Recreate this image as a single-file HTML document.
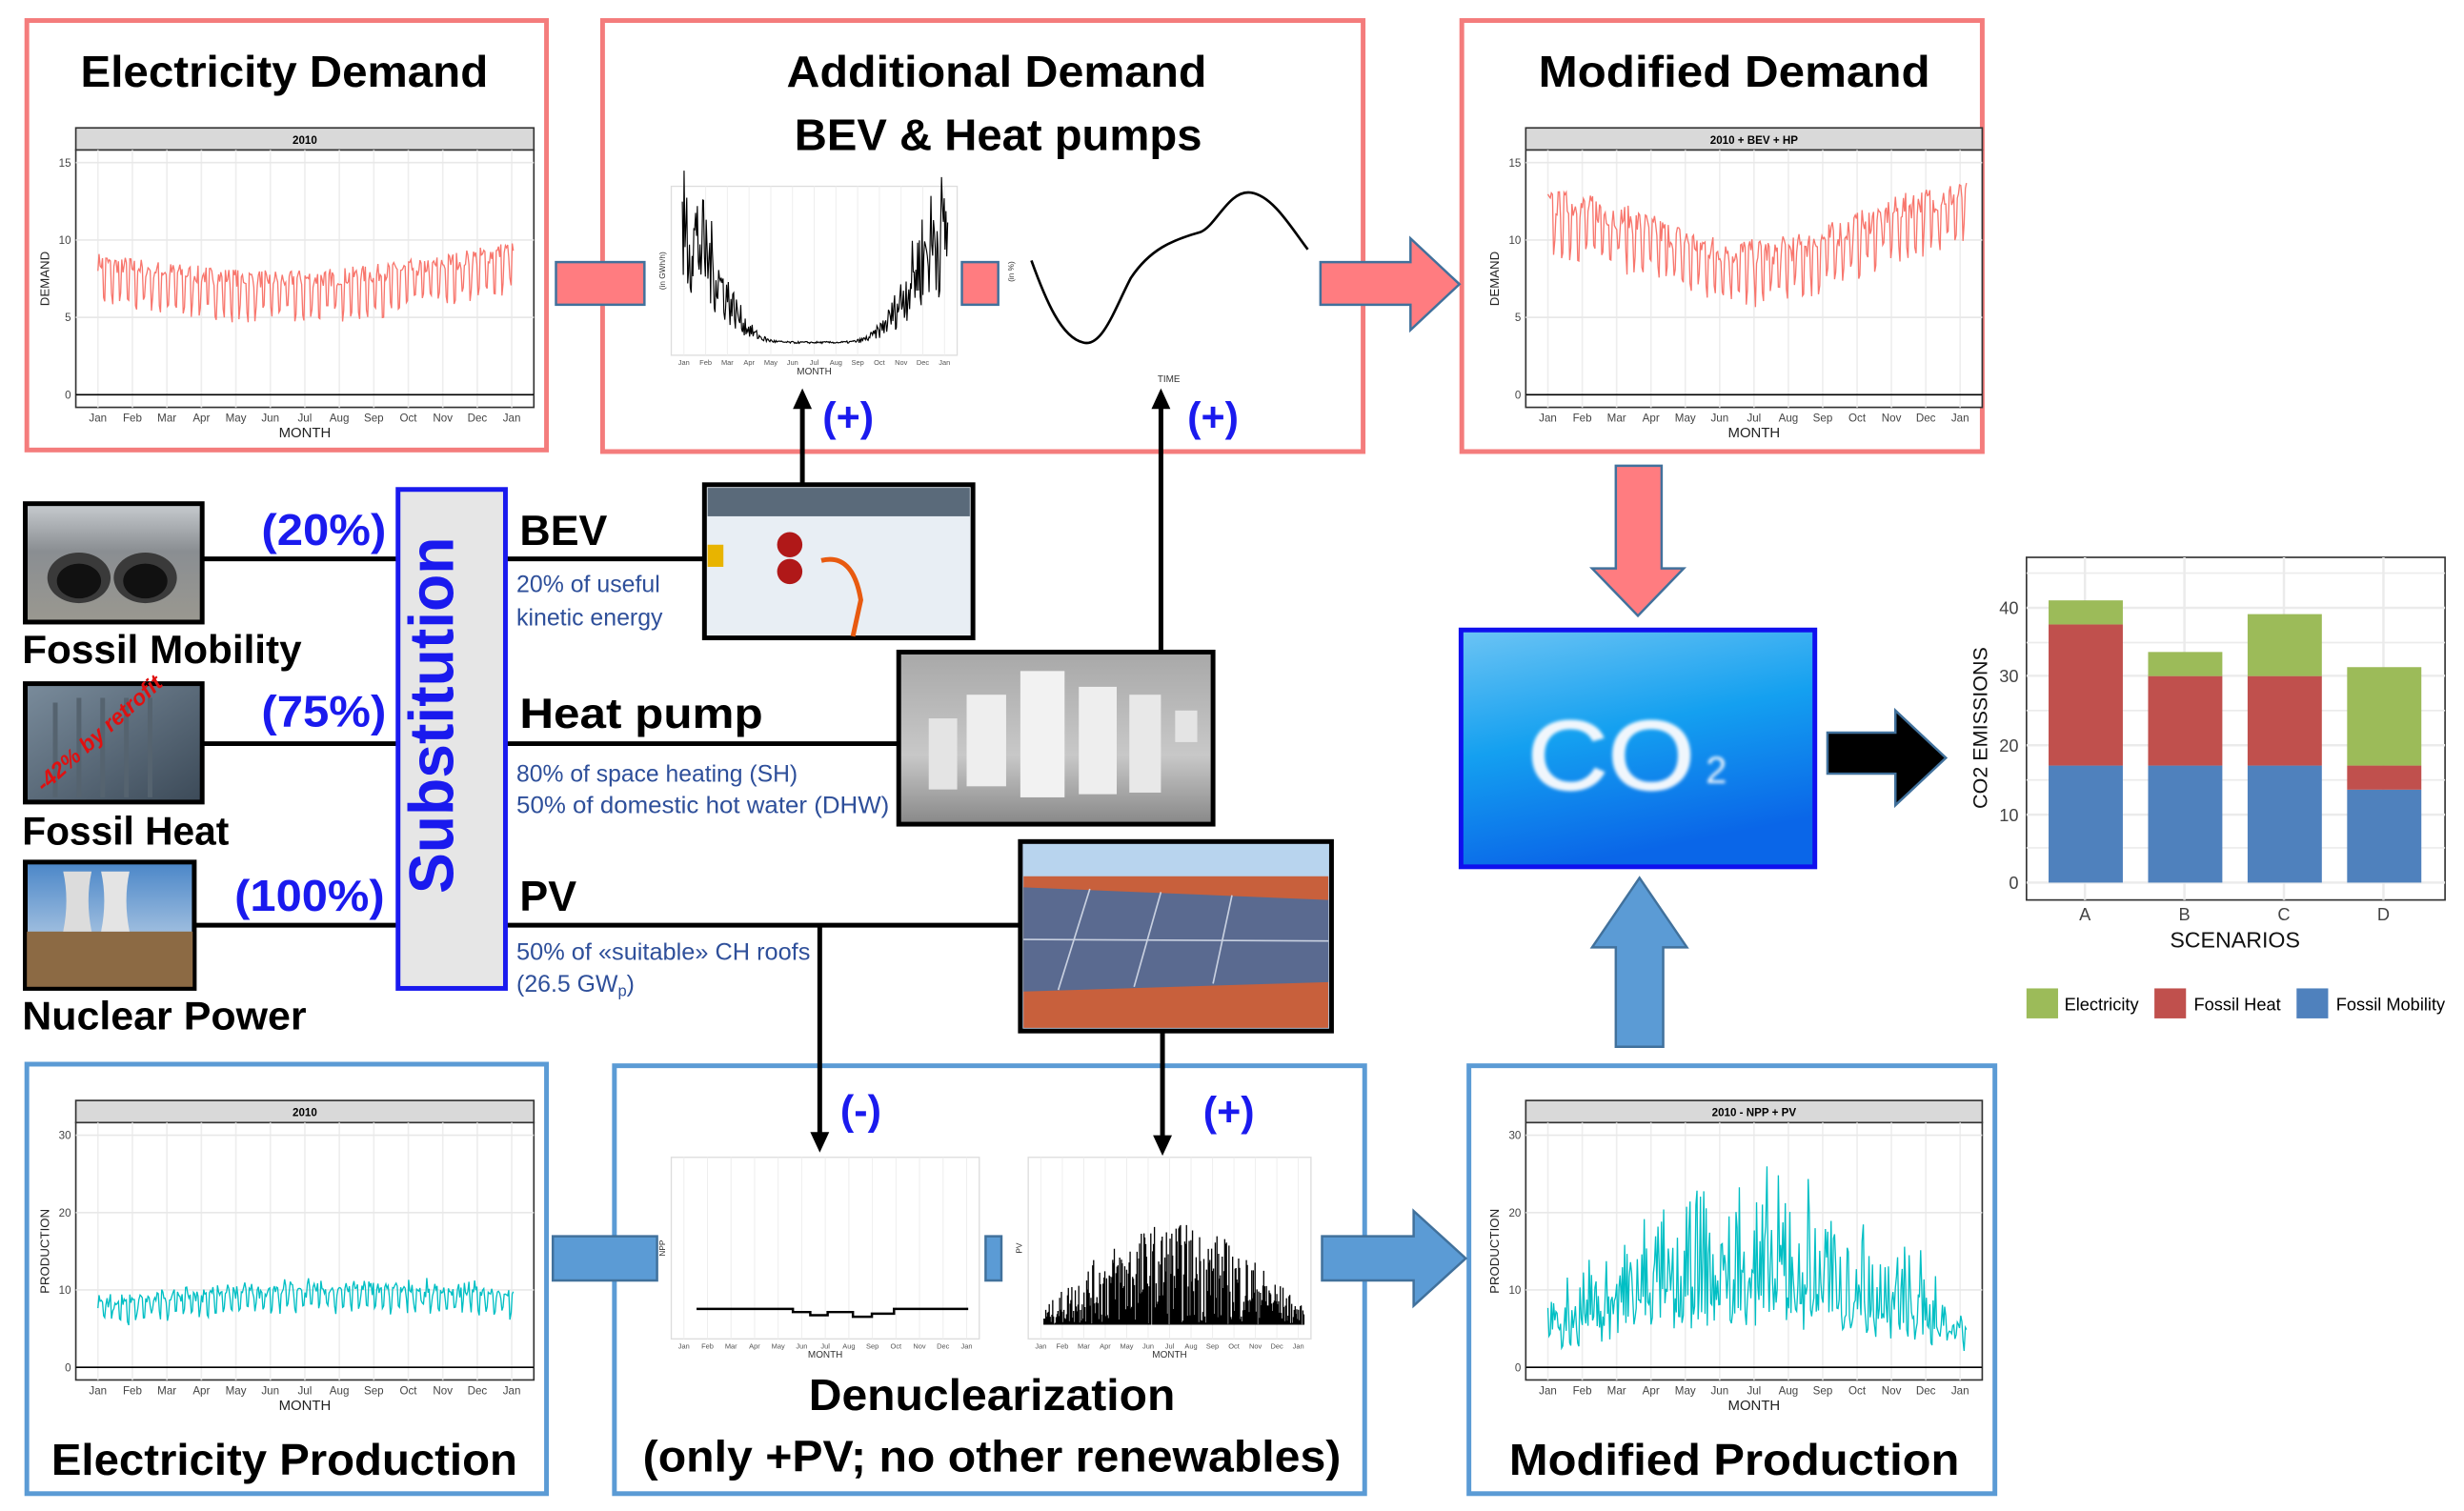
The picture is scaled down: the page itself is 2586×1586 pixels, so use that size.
<!DOCTYPE html>
<html><head><meta charset="utf-8"><style>
html,body{margin:0;padding:0;background:#fff;}
svg{display:block;}
text{font-family:"Liberation Sans",sans-serif;}
.t{font-weight:bold;fill:#000;}
.blue{fill:#1a1aee;font-weight:bold;}
.sub{fill:#2e4f9a;font-size:15px;}
</style></head><body>
<svg id="s" width="2586" height="1586" viewBox="0 0 1560 957" preserveAspectRatio="none" xmlns="http://www.w3.org/2000/svg">
<defs>
<linearGradient id="sky" x1="0" y1="0" x2="0.3" y2="1"><stop offset="0" stop-color="#6cc4f4"/><stop offset="0.5" stop-color="#14a0f0"/><stop offset="1" stop-color="#0a66e8"/></linearGradient>
<linearGradient id="nsky" x1="0" y1="0" x2="0" y2="1"><stop offset="0" stop-color="#4a86c8"/><stop offset="1" stop-color="#dfe8f0"/></linearGradient>
<linearGradient id="hp" x1="0" y1="0" x2="0" y2="1"><stop offset="0" stop-color="#a8a8a8"/><stop offset="0.6" stop-color="#c8c8c8"/><stop offset="1" stop-color="#888"/></linearGradient>
<linearGradient id="exh" x1="0" y1="0" x2="0" y2="1"><stop offset="0" stop-color="#c8ccd0"/><stop offset="0.4" stop-color="#8a8e92"/><stop offset="1" stop-color="#9a9890"/></linearGradient>
<linearGradient id="rad" x1="0" y1="0" x2="1" y2="1"><stop offset="0" stop-color="#7a8c9c"/><stop offset="1" stop-color="#3c4a58"/></linearGradient>
<filter id="cloud"><feGaussianBlur stdDeviation="1.2"/></filter>
</defs>

<rect x="17" y="13" width="329" height="272" fill="none" stroke="#f47c7c" stroke-width="3"/>
<rect x="381.5" y="13" width="481.5" height="273" fill="none" stroke="#f47c7c" stroke-width="3"/>
<rect x="925.5" y="13" width="329.5" height="273" fill="none" stroke="#f47c7c" stroke-width="3"/>
<text class="t" x="180" y="55" font-size="28" text-anchor="middle" textLength="258" lengthAdjust="spacingAndGlyphs">Electricity Demand</text>
<text class="t" x="631" y="55" font-size="28" text-anchor="middle" textLength="266" lengthAdjust="spacingAndGlyphs">Additional Demand</text>
<text class="t" x="632" y="95" font-size="28" text-anchor="middle" textLength="258" lengthAdjust="spacingAndGlyphs">BEV &amp; Heat pumps</text>
<text class="t" x="1098" y="55" font-size="28" text-anchor="middle" textLength="248" lengthAdjust="spacingAndGlyphs">Modified Demand</text>

<rect x="352" y="166" width="56" height="27" fill="#ff7c80" stroke="#41719c" stroke-width="1.5"/>
<rect x="609" y="166" width="23" height="27" fill="#ff7c80" stroke="#41719c" stroke-width="1.5"/>
<polygon points="836,166 893,166 893,151 924,180 893,209 893,193 836,193" fill="#ff7c80" stroke="#41719c" stroke-width="1.5"/>

<rect x="17" y="674" width="329" height="272" fill="none" stroke="#5b9bd5" stroke-width="3"/>
<rect x="389" y="675" width="475" height="271" fill="none" stroke="#5b9bd5" stroke-width="3"/>
<rect x="930" y="675" width="333" height="271" fill="none" stroke="#5b9bd5" stroke-width="3"/>
<text class="t" x="180" y="934" font-size="28" text-anchor="middle" textLength="295" lengthAdjust="spacingAndGlyphs">Electricity Production</text>
<text class="t" x="628" y="893" font-size="28" text-anchor="middle" textLength="232" lengthAdjust="spacingAndGlyphs">Denuclearization</text>
<text class="t" x="628" y="932" font-size="28" text-anchor="middle" textLength="442" lengthAdjust="spacingAndGlyphs">(only +PV; no other renewables)</text>
<text class="t" x="1098" y="934" font-size="28" text-anchor="middle" textLength="285" lengthAdjust="spacingAndGlyphs">Modified Production</text>
<rect x="350" y="783" width="66" height="28" fill="#5b9bd5" stroke="#41719c" stroke-width="1.5"/>
<rect x="624" y="783" width="10" height="28" fill="#5b9bd5" stroke="#41719c" stroke-width="1.5"/>
<polygon points="837,783 895,783 895,767 928,797 895,827 895,811 837,811" fill="#5b9bd5" stroke="#41719c" stroke-width="1.5"/>

<g id="charts"></g>

<g stroke="#000" stroke-width="3" fill="none">
<line x1="508" y1="307" x2="508" y2="258"/>
<line x1="735" y1="413" x2="735" y2="258"/>
<line x1="519" y1="586" x2="519" y2="718"/>
<line x1="736" y1="653" x2="736" y2="720"/>
</g>
<polygon points="502,259 514,259 508,246" fill="#000"/>
<polygon points="729,259 741,259 735,246" fill="#000"/>
<polygon points="513,717 525,717 519,730" fill="#000"/>
<polygon points="730,719 742,719 736,732" fill="#000"/>
<text class="blue" x="537" y="273" font-size="26" text-anchor="middle">(+)</text>
<text class="blue" x="768" y="273" font-size="26" text-anchor="middle">(+)</text>
<text class="blue" x="545" y="712" font-size="26" text-anchor="middle">(-)</text>
<text class="blue" x="778" y="713" font-size="26" text-anchor="middle">(+)</text>

<g stroke="#000" stroke-width="3">
<line x1="128" y1="354" x2="252" y2="354"/>
<line x1="128" y1="471" x2="252" y2="471"/>
<line x1="123" y1="586" x2="252" y2="586"/>
<line x1="320" y1="354" x2="446" y2="354"/>
<line x1="320" y1="471" x2="569" y2="471"/>
<line x1="320" y1="586" x2="646" y2="586"/>
</g>

<rect x="16" y="319" width="112" height="75" fill="url(#exh)" stroke="#000" stroke-width="3"/>
<ellipse cx="50" cy="366" rx="20" ry="16" fill="#3a3a3a"/><ellipse cx="50" cy="368" rx="14" ry="11" fill="#111"/>
<ellipse cx="92" cy="366" rx="20" ry="16" fill="#3a3a3a"/><ellipse cx="92" cy="368" rx="14" ry="11" fill="#111"/>
<rect x="16" y="433" width="112" height="75" fill="url(#rad)" stroke="#000" stroke-width="3"/>
<g stroke="#55636f" stroke-width="3"><line x1="35" y1="445" x2="35" y2="505"/><line x1="50" y1="442" x2="50" y2="505"/><line x1="65" y1="442" x2="65" y2="505"/><line x1="80" y1="442" x2="80" y2="505"/><line x1="95" y1="442" x2="95" y2="505"/></g>
<text x="28" y="502" font-size="14" fill="#e01010" font-weight="bold" font-style="italic" transform="rotate(-42 28 502)">-42% by retrofit</text>
<rect x="16" y="546" width="107" height="80" fill="url(#nsky)" stroke="#000" stroke-width="3"/>
<rect x="17" y="590" width="105" height="35" fill="#8c6a44"/>
<path d="M40,590 Q44,570 40,552 L58,552 Q54,570 58,590Z" fill="#dcdcdc"/>
<path d="M64,590 Q68,570 64,552 L82,552 Q78,570 82,590Z" fill="#e4e4e4"/>
<text class="t" x="14" y="420" font-size="25" textLength="177" lengthAdjust="spacingAndGlyphs">Fossil Mobility</text>
<text class="t" x="14" y="535" font-size="25" textLength="131" lengthAdjust="spacingAndGlyphs">Fossil Heat</text>
<text class="t" x="14" y="652" font-size="25" textLength="180" lengthAdjust="spacingAndGlyphs">Nuclear Power</text>
<text class="blue" x="205" y="345" font-size="28" text-anchor="middle" textLength="79" lengthAdjust="spacingAndGlyphs">(20%)</text>
<text class="blue" x="205" y="460" font-size="28" text-anchor="middle" textLength="79" lengthAdjust="spacingAndGlyphs">(75%)</text>
<text class="blue" x="196" y="577" font-size="28" text-anchor="middle" textLength="95" lengthAdjust="spacingAndGlyphs">(100%)</text>

<rect x="252" y="310" width="68" height="316" fill="#e6e6e6" stroke="#1a1aee" stroke-width="3"/>
<text x="302" y="468" font-size="40" font-weight="bold" fill="#1a1aee" text-anchor="middle" transform="rotate(-90 287 468)" textLength="226" lengthAdjust="spacingAndGlyphs">Substitution</text>

<text class="t" x="329" y="345" font-size="27">BEV</text>
<text class="sub" x="327" y="375">20% of useful</text>
<text class="sub" x="327" y="396">kinetic energy</text>
<text class="t" x="329" y="461" font-size="27" textLength="154" lengthAdjust="spacingAndGlyphs">Heat pump</text>
<text class="sub" x="327" y="495" textLength="178" lengthAdjust="spacingAndGlyphs">80% of space heating (SH)</text>
<text class="sub" x="327" y="515" textLength="236" lengthAdjust="spacingAndGlyphs">50% of domestic hot water (DHW)</text>
<text class="t" x="329" y="577" font-size="27">PV</text>
<text class="sub" x="327" y="608" textLength="186" lengthAdjust="spacingAndGlyphs">50% of «suitable» CH roofs</text>
<text class="sub" x="327" y="628">(26.5 GW<tspan font-size="10" dy="3">p</tspan><tspan dy="-3">)</tspan></text>

<rect x="446" y="307" width="170" height="97" fill="#e8eef4" stroke="#000" stroke-width="3"/>
<rect x="448" y="309" width="166" height="18" fill="#5a6a7a"/>
<circle cx="500" cy="345" r="8" fill="#b01818"/><circle cx="500" cy="362" r="8" fill="#b01818"/>
<path d="M520,355 Q540,350 545,380 L540,403" stroke="#e85a10" stroke-width="3" fill="none"/>
<rect x="448" y="345" width="10" height="14" fill="#e8b400"/>
<rect x="569" y="413" width="199" height="109" fill="url(#hp)" stroke="#000" stroke-width="3"/>
<rect x="646" y="425" width="28" height="80" fill="#f2f2f2"/><rect x="612" y="440" width="25" height="58" fill="#eee"/>
<rect x="683" y="435" width="24" height="68" fill="#eee"/><rect x="715" y="440" width="20" height="62" fill="#e8e8e8"/>
<rect x="588" y="455" width="18" height="45" fill="#e4e4e4"/><rect x="744" y="450" width="14" height="20" fill="#e4e4e4"/>
<rect x="646" y="533" width="197" height="120" fill="#b8d4ee" stroke="#000" stroke-width="3"/>
<rect x="648" y="555" width="193" height="96" fill="#c8603c"/>
<polygon points="648,562 841,570 841,622 648,628" fill="#5a6a90"/>
<g stroke="#c8d0e0" stroke-width="1"><line x1="690" y1="563" x2="670" y2="627"/><line x1="735" y1="565" x2="718" y2="625"/><line x1="780" y1="567" x2="768" y2="623"/><line x1="648" y1="595" x2="841" y2="596"/></g>

<polygon points="1023,295 1052,295 1052,360 1066,360 1037,390 1008,360 1023,360" fill="#ff7c80" stroke="#41719c" stroke-width="1.5"/>
<rect x="925" y="399" width="224" height="150" fill="url(#sky)" stroke="#1010ee" stroke-width="3"/>
<g filter="url(#cloud)">
<text x="1020" y="500" font-size="62" fill="#f0f6fc" text-anchor="middle" stroke="#ffffff" stroke-width="1" textLength="106" lengthAdjust="spacingAndGlyphs" font-family="Liberation Sans Narrow, Liberation Sans, sans-serif">CO</text>
<text x="1080" y="496" font-size="24" fill="#f0f6fc">2</text>
</g>
<polygon points="1157,464 1200,464 1200,450 1232,480 1200,510 1200,490 1157,490" fill="#000" stroke="#41719c" stroke-width="1.5"/>
<polygon points="1023,663 1053,663 1053,600 1068,600 1038,556 1008,600 1023,600" fill="#5b9bd5" stroke="#41719c" stroke-width="1.5"/>

<rect x="1283" y="353" width="265" height="217" fill="#fff" stroke="#333" stroke-width="1"/>
<g stroke="#ebebeb" stroke-width="1">
<line x1="1283" y1="537" x2="1548" y2="537"/><line x1="1283" y1="494" x2="1548" y2="494"/><line x1="1283" y1="450" x2="1548" y2="450"/><line x1="1283" y1="407" x2="1548" y2="407"/><line x1="1283" y1="363" x2="1548" y2="363"/>
<line x1="1283" y1="559" x2="1548" y2="559" stroke-width="1.5"/><line x1="1283" y1="516" x2="1548" y2="516" stroke-width="1.5"/><line x1="1283" y1="472" x2="1548" y2="472" stroke-width="1.5"/><line x1="1283" y1="428" x2="1548" y2="428" stroke-width="1.5"/><line x1="1283" y1="385" x2="1548" y2="385" stroke-width="1.5"/>
<line x1="1320" y1="353" x2="1320" y2="570" stroke-width="1.5"/><line x1="1383" y1="353" x2="1383" y2="570" stroke-width="1.5"/><line x1="1446" y1="353" x2="1446" y2="570" stroke-width="1.5"/><line x1="1509" y1="353" x2="1509" y2="570" stroke-width="1.5"/>
</g>
<g id="bars"></g>
<g font-size="11" fill="#444" text-anchor="end"><text x="1278" y="389">40</text><text x="1278" y="432">30</text><text x="1278" y="476">20</text><text x="1278" y="520">10</text><text x="1278" y="563">0</text></g>
<g font-size="11" fill="#444" text-anchor="middle"><text x="1320" y="583">A</text><text x="1383" y="583">B</text><text x="1446" y="583">C</text><text x="1509" y="583">D</text></g>
<text x="1415" y="600" font-size="14" text-anchor="middle" fill="#111">SCENARIOS</text>
<text x="1258" y="461" font-size="13" text-anchor="middle" fill="#111" transform="rotate(-90 1258 461)">CO2 EMISSIONS</text>
<rect x="1283" y="626" width="20" height="19" fill="#9cbb59"/><text x="1307" y="640" font-size="11">Electricity</text>
<rect x="1364" y="626" width="20" height="19" fill="#c0504d"/><text x="1389" y="640" font-size="11">Fossil Heat</text>
<rect x="1454" y="626" width="20" height="19" fill="#4f81bd"/><text x="1479" y="640" font-size="11">Fossil Mobility</text>
</svg>
<script>
var NS="http://www.w3.org/2000/svg",C=document.getElementById('charts');
function el(t,a,p){var e=document.createElementNS(NS,t);var tx=a._t;delete a._t;for(var k in a)e.setAttribute(k,a[k]);if(tx!==undefined)e.textContent=tx;(p||C).appendChild(e);return e;}
var seed=7;function rnd(){seed=(seed*16807)%2147483647;return seed/2147483647;}
var months=['Jan','Feb','Mar','Apr','May','Jun','Jul','Aug','Sep','Oct','Nov','Dec','Jan'];
function panel(x0,x1,yTop,yBot,strip,ylab,ticks){
 el('rect',{x:x0,y:yTop-14,width:x1-x0,height:14,fill:'#d9d9d9',stroke:'#333','stroke-width':1});
 el('text',{x:(x0+x1)/2,y:yTop-4,'font-size':7,'text-anchor':'middle','font-weight':'bold',_t:strip});
 el('rect',{x:x0,y:yTop,width:x1-x0,height:yBot-yTop,fill:'#fff',stroke:'#333','stroke-width':1});
 for(var i=0;i<13;i++){var x=x0+14+i*(x1-x0-28)/12;el('line',{x1:x,y1:yTop,x2:x,y2:yBot,stroke:'#eee','stroke-width':1});
 el('text',{x:x,y:yBot+9,'font-size':7,'text-anchor':'middle',fill:'#444',_t:months[i]});}
 ticks.forEach(function(t){el('line',{x1:x0,y1:t[1],x2:x1,y2:t[1],stroke:'#e8e8e8','stroke-width':1});el('text',{x:x0-3,y:t[1]+2.5,'font-size':7,'text-anchor':'end',fill:'#444',_t:t[0]});});
 el('text',{x:(x0+x1)/2,y:yBot+19,'font-size':9,'text-anchor':'middle',fill:'#222',_t:'MONTH'});
 el('text',{x:x0-17,y:(yTop+yBot)/2,'font-size':8,'text-anchor':'middle',fill:'#222',transform:'rotate(-90 '+(x0-17)+' '+((yTop+yBot)/2)+')',_t:ylab});
}
function series(xa,xb,f,color,sw,n){var d='';for(var i=0;i<=n;i++){var t=i/n;var x=xa+t*(xb-xa);d+=(i?'L':'M')+x.toFixed(1)+','+f(t,i).toFixed(1);}el('path',{d:d,fill:'none',stroke:color,'stroke-width':sw});}
panel(48,338,95,258,'2010','DEMAND',[['15',103],['10',152],['5',201],['0',250]]);
el('line',{x1:48,y1:250,x2:338,y2:250,stroke:'#000','stroke-width':1});
series(62,325,function(t,i){var s=7.6-1.3*Math.sin(Math.PI*t)+0.8*t*t;var w=((i%7)<5?1.0:-1.3)+1.2*(rnd()-0.5);return 250-(s+w)*9.8;},'#f8766d',0.8,365);
panel(966,1255,95,258,'2010 + BEV + HP','DEMAND',[['15',103],['10',152],['5',201],['0',250]]);
el('line',{x1:966,y1:250,x2:1255,y2:250,stroke:'#000','stroke-width':1});
series(980,1245,function(t,i){var s=7.6+3.4*Math.pow(Math.cos(Math.PI*t),2)+0.6*t;var w=((i%7)<5?1.3:-1.4)+1.8*(rnd()-0.5);return 250-(s+w)*9.8;},'#f8766d',0.8,365);
panel(48,338,711,874,'2010','PRODUCTION',[['30',719],['20',768],['10',817],['0',866]]);
el('line',{x1:48,y1:866,x2:338,y2:866,stroke:'#000','stroke-width':1});
series(62,325,function(t,i){var s=6.8+1.5*Math.sin(Math.PI*t)+1.2*t*t;var w=((i%7)<5?1.6:-0.8)+3*(rnd()-0.5)*rnd();return 866-(s+w)*4.9;},'#00bfc4',0.8,365);
panel(966,1255,711,874,'2010 - NPP + PV','PRODUCTION',[['30',719],['20',768],['10',817],['0',866]]);
el('line',{x1:966,y1:866,x2:1255,y2:866,stroke:'#000','stroke-width':1});
series(980,1245,function(t,i){var s=3+3*Math.sin(Math.PI*t);var w=rnd()*rnd()*(6+16*Math.sin(Math.PI*t))+((i%7)<5?1:-1);return 866-(s+w)*4.9;},'#00bfc4',0.8,365);
function small(x0,x1,yT,yB,lab){el('rect',{x:x0,y:yT,width:x1-x0,height:yB-yT,fill:'#fff',stroke:'#ddd','stroke-width':0.8});
 for(var i=0;i<13;i++){var x=x0+8+i*(x1-x0-16)/12;el('line',{x1:x,y1:yT,x2:x,y2:yB,stroke:'#eee','stroke-width':0.6});el('text',{x:x,y:yB+6,'font-size':4.5,'text-anchor':'middle',fill:'#555',_t:months[i]});}
 el('text',{x:(x0+x1)/2,y:yB+12,'font-size':6,'text-anchor':'middle',fill:'#333',_t:'MONTH'});
 el('text',{x:x0-4,y:(yT+yB)/2,'font-size':5,'text-anchor':'middle',fill:'#333',transform:'rotate(-90 '+(x0-4)+' '+((yT+yB)/2)+')',_t:lab});}
small(425,606,118,225,'(in GWh/h)');
series(432,600,function(t,i){var s=Math.pow(Math.cos(Math.PI*t),6)*3.2+0.05;var v=s*(0.4+rnd()*1.1);return 218-v*23;},'#000',0.7,300);
el('path',{d:'M653,165 C662,190 672,214 686,217 C698,220 706,195 716,176 C728,158 742,152 760,147 C770,143 778,120 792,122 C806,124 818,145 828,158',fill:'none',stroke:'#000','stroke-width':1.6});
el('text',{x:740,y:242,'font-size':6,'text-anchor':'middle',fill:'#333',_t:'TIME'});
el('text',{x:642,y:172,'font-size':5,'text-anchor':'middle',fill:'#333',transform:'rotate(-90 642 172)',_t:'(in %)'});
small(425,620,733,848,'NPP');
el('path',{d:'M441,829 L502,829 L502,831 L513,831 L513,833 L524,833 L524,831 L540,831 L540,834 L552,834 L552,832 L566,832 L566,829 L613,829',fill:'none',stroke:'#000','stroke-width':1.5});
small(651,830,733,848,'PV');
var d='';for(var i=0;i<300;i++){var t=i/300;var x=661+t*165;var h=rnd()*(10+55*Math.sin(Math.PI*t));d+='M'+x.toFixed(1)+',839L'+x.toFixed(1)+','+(839-h).toFixed(1);}
el('path',{d:d,stroke:'#000','stroke-width':0.8});
var B=document.getElementById('bars');function y(v){return 559-v*4.36;}
[[1297,17,37.5,41],[1360,17,30,33.5],[1423,17,30,39],[1486,13.5,17,31.3]].forEach(function(b){
 el('rect',{x:b[0],y:y(b[1]),width:47,height:b[1]*4.36,fill:'#4f81bd'},B);
 el('rect',{x:b[0],y:y(b[2]),width:47,height:(b[2]-b[1])*4.36,fill:'#c0504d'},B);
 el('rect',{x:b[0],y:y(b[3]),width:47,height:(b[3]-b[2])*4.36,fill:'#9cbb59'},B);});
</script>
</body></html>
